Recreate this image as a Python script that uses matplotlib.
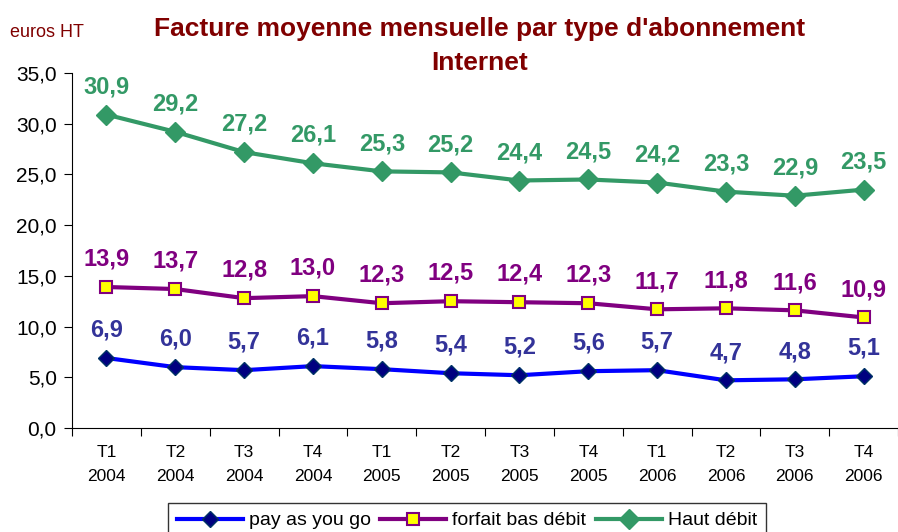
import matplotlib.pyplot as plt

# Données : facture moyenne mensuelle (euros HT)
periodes = ["T1\n2004", "T2\n2004", "T3\n2004", "T4\n2004",
            "T1\n2005", "T2\n2005", "T3\n2005", "T4\n2005",
            "T1\n2006", "T2\n2006", "T3\n2006", "T4\n2006"]
pay_as_you_go = [6.9, 6.0, 5.7, 6.1, 5.8, 5.4, 5.2, 5.6, 5.7, 4.7, 4.8, 5.1]
forfait_bas_debit = [13.9, 13.7, 12.8, 13.0, 12.3, 12.5, 12.4, 12.3, 11.7, 11.8, 11.6, 10.9]
haut_debit = [30.9, 29.2, 27.2, 26.1, 25.3, 25.2, 24.4, 24.5, 24.2, 23.3, 22.9, 23.5]

def fr(v):    # format décimal à la française
    return f"{v:.1f}".replace(".", ",")

plt.rcParams['font.family'] = ['Liberation Sans', 'DejaVu Sans']

fig = plt.figure(figsize=(8.98, 5.32), dpi=100)
ax = fig.add_axes([0.0802, 0.1955, 0.9198, 0.6673])

x = list(range(len(periodes)))

ax.plot(x, pay_as_you_go, color='#0000FF', lw=3, marker='D', ms=8,
        mfc='#000080', mec='#003366', label='pay as you go', zorder=3)
ax.plot(x, forfait_bas_debit, color='#800080', lw=3, marker='s', ms=8,
        mfc='#FFFF00', mec='#800080', mew=1.5, label='forfait bas débit', zorder=3)
ax.plot(x, haut_debit, color='#339966', lw=3, marker='D', ms=10,
        mfc='#339966', mec='#339966', label='Haut débit', zorder=3)

# étiquettes de valeurs
for serie, couleur in [(pay_as_you_go, '#333399'),
                       (forfait_bas_debit, '#800080'),
                       (haut_debit, '#339966')]:
    for xi, v in zip(x, serie):
        ax.annotate(fr(v), (xi, v), xytext=(0, 20), textcoords='offset points',
                    ha='center', va='center', fontsize=17, fontweight='bold',
                    color=couleur)

ax.set_xlim(-0.5, len(periodes) - 0.5)
ax.set_ylim(0, 35)
ax.set_yticks([0, 5, 10, 15, 20, 25, 30, 35])
ax.set_yticklabels([fr(v) for v in [0, 5, 10, 15, 20, 25, 30, 35]], fontsize=15)

# graduations entre les catégories, étiquettes au centre
ax.set_xticks([i - 0.5 for i in range(len(periodes) + 1)])
ax.set_xticklabels([])
ax.set_xticks(x, minor=True)
ax.set_xticklabels(periodes, minor=True, fontsize=12.5, linespacing=1.75)
ax.tick_params(axis='x', which='minor', length=0, pad=12)
ax.tick_params(axis='x', which='major', length=6, direction='out')
ax.tick_params(axis='y', length=6, direction='out', pad=5)

ax.spines['top'].set_visible(False)
ax.spines['right'].set_visible(False)

fig.text(0.534, 0.945, "Facture moyenne mensuelle par type d'abonnement",
         ha='center', va='center', fontsize=19, fontweight='bold', color='#800000')
fig.text(0.534, 0.882, "Internet",
         ha='center', va='center', fontsize=19, fontweight='bold', color='#800000')
fig.text(0.011, 0.938, "euros HT", ha='left', va='center', fontsize=13, color='#800000')

leg = fig.legend(loc='lower center', bbox_to_anchor=(0.52, -0.03), ncol=3,
                 fontsize=14, frameon=True, fancybox=False, edgecolor='black',
                 handlelength=3.4, columnspacing=0.5, handletextpad=0.3,
                 borderpad=0.45)
leg.get_frame().set_linewidth(1)

fig.savefig("out.png", dpi=100)
